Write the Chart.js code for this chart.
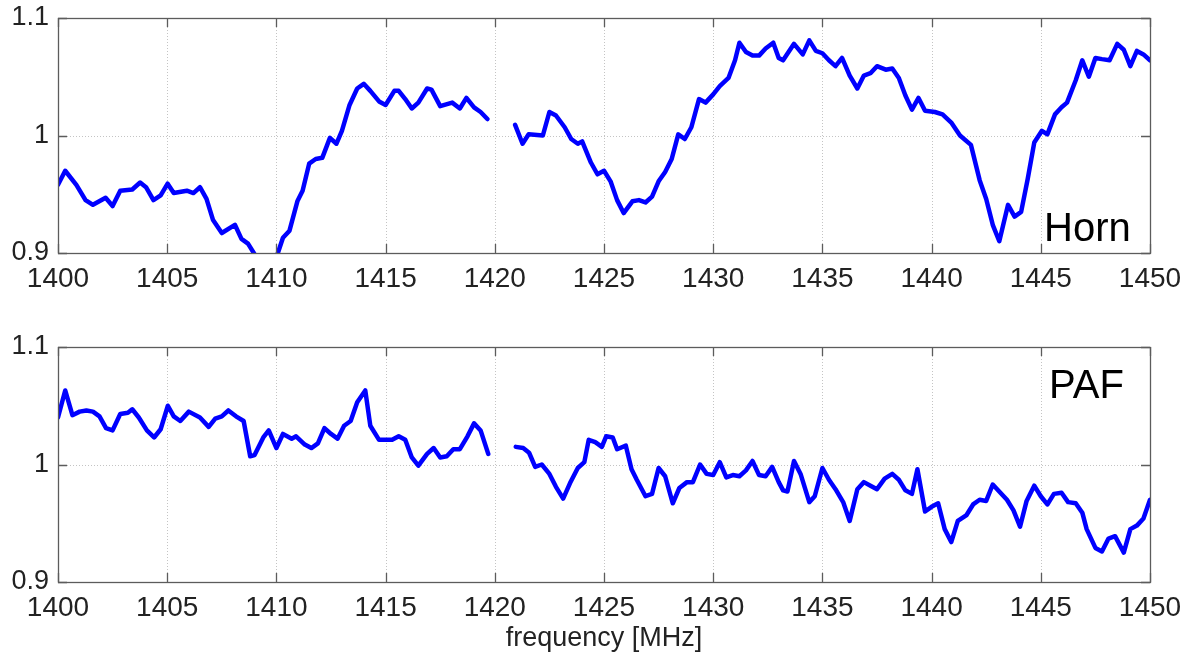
<!DOCTYPE html>
<html>
<head>
<meta charset="utf-8">
<script src="https://cdn.jsdelivr.net/npm/chart.js@4.4.1/dist/chart.umd.min.js"></script>
<style>
  body { margin: 0; background: #fff; width: 1184px; height: 658px; position: relative; overflow: hidden; }
  canvas { position: absolute; left: 0; }
  #hornChart { top: 0; }
  #pafChart { top: 330px; }
  .tag { position: absolute; font-family: "Liberation Sans", Arial, sans-serif; font-size: 40px; line-height: 40px; color: #000; }
</style>
</head>
<body>
<canvas id="hornChart" width="1184" height="300"></canvas>
<canvas id="pafChart" width="1184" height="328"></canvas>
<div class="tag" style="left:1044px; top:207px;">Horn</div>
<div class="tag" style="left:1049px; top:364px;">PAF</div>
<script>
// frequency axis ticks [MHz] and gain ticks
var freqTicks = [1400, 1405, 1410, 1415, 1420, 1425, 1430, 1435, 1440, 1445, 1450];
var gainTicks = [0.9, 1.0, 1.1];

// Horn bandpass ratio (null = missing channels around 1420 MHz)
var hornFreq = [1400.0, 1400.33, 1400.84, 1401.26, 1401.6, 1402.18, 1402.5, 1402.85, 1403.4, 1403.76,
    1404.03, 1404.37, 1404.7, 1405.02, 1405.3, 1405.9, 1406.2, 1406.5, 1406.8, 1407.1,
    1407.5, 1408.1, 1408.4, 1408.7, 1409.0, 1409.5, 1410.05, 1410.3, 1410.6, 1410.96,
    1411.2, 1411.5, 1411.8, 1412.1, 1412.45, 1412.75, 1413.0, 1413.35, 1413.7, 1414.0,
    1414.3, 1414.7, 1415.0, 1415.4, 1415.6, 1415.9, 1416.2, 1416.5, 1416.9, 1417.1,
    1417.5, 1418.05, 1418.4, 1418.7, 1419.05, 1419.35, 1419.66, 1420.3, 1420.93, 1421.27,
    1421.55, 1422.2, 1422.5, 1422.8, 1423.2, 1423.5, 1423.8, 1424.0, 1424.4, 1424.7,
    1425.0, 1425.3, 1425.6, 1425.9, 1426.3, 1426.6, 1426.9, 1427.2, 1427.5, 1427.8,
    1428.1, 1428.4, 1428.7, 1429.0, 1429.35, 1429.65, 1430.0, 1430.3, 1430.7, 1431.0,
    1431.2, 1431.5, 1431.8, 1432.1, 1432.4, 1432.75, 1433.0, 1433.2, 1433.7, 1434.1,
    1434.4, 1434.7, 1435.0, 1435.3, 1435.6, 1435.9, 1436.25, 1436.6, 1436.9, 1437.2,
    1437.5, 1437.9, 1438.2, 1438.5, 1438.8, 1439.1, 1439.4, 1439.7, 1440.15, 1440.5,
    1440.9, 1441.3, 1441.8, 1442.2, 1442.5, 1442.8, 1443.1, 1443.5, 1443.8, 1444.1,
    1444.4, 1444.7, 1445.05, 1445.3, 1445.65, 1445.95, 1446.2, 1446.6, 1446.9, 1447.2,
    1447.5, 1447.8, 1448.15, 1448.5, 1448.8, 1449.1, 1449.4, 1449.7, 1450.0];
var hornGain = [0.958, 0.970, 0.958, 0.945, 0.941, 0.947, 0.940, 0.953, 0.954, 0.960,
    0.956, 0.945, 0.949, 0.959, 0.951, 0.953, 0.951, 0.956, 0.946, 0.928,
    0.917, 0.924, 0.912, 0.908, 0.899, 0.880, 0.899, 0.913, 0.919, 0.944,
    0.953, 0.976, 0.980, 0.981, 0.998, 0.993, 1.004, 1.026, 1.040, 1.044,
    1.038, 1.029, 1.026, 1.038, 1.038, 1.031, 1.023, 1.028, 1.040, 1.039,
    1.025, 1.028, 1.023, 1.032, 1.024, 1.020, 1.014, null, 1.009, 0.993,
    1.001, 1.000, 1.020, 1.017, 1.007, 0.997, 0.993, 0.995, 0.977, 0.967,
    0.970, 0.961, 0.945, 0.934, 0.944, 0.945, 0.943, 0.948, 0.961, 0.969,
    0.980, 1.001, 0.997, 1.007, 1.031, 1.028, 1.035, 1.042, 1.049, 1.064,
    1.079, 1.071, 1.068, 1.068, 1.074, 1.079, 1.066, 1.064, 1.078, 1.069,
    1.081, 1.072, 1.070, 1.064, 1.059, 1.066, 1.051, 1.040, 1.051, 1.053,
    1.059, 1.056, 1.057, 1.049, 1.034, 1.022, 1.032, 1.021, 1.020, 1.018,
    1.011, 1.000, 0.992, 0.962, 0.946, 0.924, 0.910, 0.941, 0.931, 0.935,
    0.963, 0.994, 1.004, 1.001, 1.018, 1.024, 1.028, 1.047, 1.064, 1.050,
    1.066, 1.065, 1.064, 1.078, 1.073, 1.059, 1.072, 1.069, 1.064];

// PAF bandpass ratio
var pafFreq = [1400.0, 1400.33, 1400.66, 1400.99, 1401.3, 1401.6, 1401.9, 1402.2, 1402.5, 1402.85,
    1403.2, 1403.4, 1403.7, 1404.07, 1404.4, 1404.7, 1405.03, 1405.3, 1405.6, 1405.99,
    1406.5, 1406.9, 1407.2, 1407.5, 1407.8, 1408.15, 1408.5, 1408.8, 1409.0, 1409.4,
    1409.65, 1410.0, 1410.3, 1410.7, 1410.9, 1411.3, 1411.6, 1411.9, 1412.2, 1412.5,
    1412.8, 1413.1, 1413.4, 1413.7, 1414.07, 1414.3, 1414.7, 1415.0, 1415.3, 1415.6,
    1415.9, 1416.2, 1416.5, 1416.9, 1417.2, 1417.5, 1417.8, 1418.1, 1418.4, 1418.75,
    1419.05, 1419.35, 1419.7, 1420.3, 1420.96, 1421.3, 1421.57, 1421.85, 1422.15, 1422.5,
    1422.8, 1423.13, 1423.44, 1423.8, 1424.1, 1424.3, 1424.6, 1424.9, 1425.1, 1425.4,
    1425.6, 1426.0, 1426.26, 1426.5, 1426.9, 1427.2, 1427.5, 1427.8, 1428.15, 1428.45,
    1428.8, 1429.07, 1429.4, 1429.7, 1430.0, 1430.3, 1430.6, 1430.9, 1431.2, 1431.5,
    1431.8, 1432.1, 1432.4, 1432.7, 1433.0, 1433.2, 1433.4, 1433.7, 1434.0, 1434.4,
    1434.65, 1435.0, 1435.3, 1435.6, 1435.95, 1436.25, 1436.6, 1436.9, 1437.2, 1437.5,
    1437.85, 1438.2, 1438.5, 1438.8, 1439.1, 1439.35, 1439.7, 1440.0, 1440.3, 1440.6,
    1440.9, 1441.2, 1441.6, 1441.9, 1442.2, 1442.5, 1442.8, 1443.15, 1443.45, 1443.75,
    1444.05, 1444.35, 1444.7, 1445.0, 1445.3, 1445.6, 1445.95, 1446.25, 1446.6, 1446.9,
    1447.1, 1447.5, 1447.8, 1448.1, 1448.4, 1448.8, 1449.1, 1449.4, 1449.7, 1450.0];
var pafGain = [1.040, 1.063, 1.042, 1.045, 1.046, 1.045, 1.041, 1.031, 1.029, 1.043,
    1.044, 1.047, 1.040, 1.029, 1.023, 1.030, 1.050, 1.041, 1.037, 1.045,
    1.040, 1.032, 1.039, 1.041, 1.046, 1.041, 1.037, 1.007, 1.008, 1.023,
    1.029, 1.014, 1.026, 1.022, 1.024, 1.017, 1.014, 1.018, 1.031, 1.026,
    1.022, 1.033, 1.037, 1.053, 1.063, 1.033, 1.021, 1.021, 1.021, 1.024,
    1.021, 1.006, 0.999, 1.009, 1.014, 1.006, 1.007, 1.013, 1.013, 1.024,
    1.035, 1.029, 1.009, null, 1.015, 1.014, 1.010, 0.998, 1.000, 0.992,
    0.981, 0.971, 0.984, 0.997, 1.002, 1.021, 1.019, 1.015, 1.024, 1.023,
    1.013, 1.016, 0.996, 0.987, 0.973, 0.975, 0.997, 0.990, 0.967, 0.980,
    0.985, 0.985, 1.000, 0.992, 0.991, 1.002, 0.989, 0.991, 0.990, 0.995,
    1.003, 0.991, 0.990, 0.998, 0.985, 0.978, 0.977, 1.003, 0.992, 0.968,
    0.973, 0.997, 0.987, 0.979, 0.968, 0.952, 0.979, 0.985, 0.982, 0.979,
    0.988, 0.992, 0.987, 0.978, 0.975, 0.996, 0.960, 0.964, 0.967, 0.945,
    0.934, 0.952, 0.957, 0.966, 0.970, 0.969, 0.983, 0.976, 0.970, 0.961,
    0.947, 0.969, 0.982, 0.973, 0.966, 0.975, 0.976, 0.968, 0.967, 0.959,
    0.945, 0.929, 0.926, 0.937, 0.939, 0.925, 0.945, 0.948, 0.954, 0.970];

var FONT = '"Liberation Sans", Arial, sans-serif';

// MATLAB-like axes: dotted grid, grey box, inward ticks on all four sides
var boxAxes = {
    id: 'boxAxes',
    beforeDatasetsDraw: function(chart) {
        var ctx = chart.ctx, a = chart.chartArea;
        var x = chart.scales.x, y = chart.scales.y;
        ctx.save();
        ctx.strokeStyle = '#c4c4c4';
        ctx.lineWidth = 1;
        ctx.setLineDash([1, 2]);
        ctx.beginPath();
        freqTicks.forEach(function(f) {
            var px = Math.round(x.getPixelForValue(f)) + 0.5;
            if (px > a.left + 2 && px < a.right - 2) { ctx.moveTo(px, a.top); ctx.lineTo(px, a.bottom); }
        });
        gainTicks.forEach(function(g) {
            var py = Math.round(y.getPixelForValue(g)) + 0.5;
            if (py > a.top + 2 && py < a.bottom - 2) { ctx.moveTo(a.left, py); ctx.lineTo(a.right, py); }
        });
        ctx.stroke();
        ctx.restore();
    },
    afterDatasetsDraw: function(chart) {
        var ctx = chart.ctx, a = chart.chartArea;
        var x = chart.scales.x, y = chart.scales.y;
        var tl = 9;
        ctx.save();
        ctx.strokeStyle = '#5c5c5c';
        ctx.lineWidth = 1.3;
        ctx.beginPath();
        freqTicks.forEach(function(f) {
            var px = Math.round(x.getPixelForValue(f)) + 0.5;
            ctx.moveTo(px, a.bottom); ctx.lineTo(px, a.bottom - tl);
            ctx.moveTo(px, a.top); ctx.lineTo(px, a.top + tl);
        });
        gainTicks.forEach(function(g) {
            var py = Math.round(y.getPixelForValue(g)) + 0.5;
            ctx.moveTo(a.left, py); ctx.lineTo(a.left + tl, py);
            ctx.moveTo(a.right, py); ctx.lineTo(a.right - tl, py);
        });
        ctx.stroke();
        ctx.strokeRect(Math.round(a.left) + 0.5, Math.round(a.top) + 0.5,
            Math.round(a.right - a.left), Math.round(a.bottom - a.top));
        ctx.restore();
    }
};

function plainTick(v) { return String(+Number(v).toFixed(1)); }

function makeChart(id, freq, gain, padTop, xHeight, xTitle) {
    var pts = freq.map(function(f, i) { return { x: f, y: gain[i] }; });
    return new Chart(document.getElementById(id), {
        type: 'line',
        data: {
            datasets: [{
                data: pts,
                borderColor: '#0000ff',
                borderWidth: 4.5,
                pointRadius: 0,
                tension: 0,
                spanGaps: false,
                clip: 0,
                borderJoinStyle: 'round',
                borderCapStyle: 'round'
            }]
        },
        options: {
            responsive: false,
            animation: false,
            events: [],
            layout: { padding: { top: padTop, right: 34, left: 0, bottom: 0 } },
            plugins: { legend: { display: false }, tooltip: { enabled: false } },
            scales: {
                x: {
                    type: 'linear',
                    min: 1400,
                    max: 1450,
                    afterBuildTicks: function(s) { s.ticks = freqTicks.map(function(v) { return { value: v }; }); },
                    afterFit: function(s) {
                        s.height = xHeight;
                        s.paddingLeft = 0; s.paddingRight = 0;
                    },
                    grid: { display: false, drawTicks: false },
                    border: { display: false },
                    ticks: {
                        padding: 9, color: '#222', font: { family: FONT, size: 28 },
                        maxRotation: 0, autoSkip: false, callback: plainTick
                    },
                    title: {
                        display: !!xTitle,
                        text: xTitle || '',
                        color: '#222',
                        font: { family: FONT, size: 27 },
                        padding: { top: 0, bottom: 3 }
                    }
                },
                y: {
                    min: 0.9,
                    max: 1.1,
                    afterBuildTicks: function(s) { s.ticks = gainTicks.map(function(v) { return { value: v }; }); },
                    afterFit: function(s) {
                        s.width = 58;
                        s.paddingTop = 0; s.paddingBottom = 0;
                    },
                    grid: { display: false, drawTicks: false },
                    border: { display: false },
                    ticks: { padding: 9, color: '#222', font: { family: FONT, size: 27 }, callback: plainTick }
                }
            }
        },
        plugins: [boxAxes]
    });
}

makeChart('hornChart', hornFreq, hornGain, 18, 47, null);
makeChart('pafChart', pafFreq, pafGain, 17, 76, 'frequency [MHz]');
</script>
</body>
</html>
